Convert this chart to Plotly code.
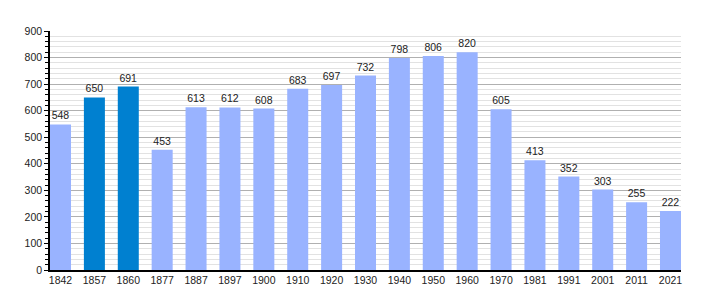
import plotly.graph_objects as go

years = ["1842", "1857", "1860", "1877", "1887", "1897", "1900", "1910", "1920", "1930",
         "1940", "1950", "1960", "1970", "1981", "1991", "2001", "2011", "2021"]
population = [548, 650, 691, 453, 613, 612, 608, 683, 697, 732,
              798, 806, 820, 605, 413, 352, 303, 255, 222]
highlight = ["1857", "1860"]

light = "#99b3ff"
dark = "#0080d0"
colors = [dark if y in highlight else light for y in years]

FS = 10.5

fig = go.Figure(go.Bar(
    x=years, y=population,
    marker=dict(color=colors, line=dict(width=0)),
    width=0.62,
    text=[str(v) for v in population],
    textposition="outside",
    textfont=dict(family="Liberation Sans, Arial, sans-serif", size=FS, color="#222"),
    cliponaxis=False,
))

fig.update_layout(
    width=710, height=300,
    margin=dict(l=50, r=29, t=31, b=30),
    plot_bgcolor="white", paper_bgcolor="white",
    font=dict(family="Liberation Sans, Arial, sans-serif", size=FS, color="#222"),
    showlegend=False,
    xaxis=dict(
        type="category",
        range=[-0.31, 18.31],
        showline=True, linecolor="black", linewidth=1.5,
        ticks="", showgrid=False,
        tickfont=dict(size=FS),
    ),
    yaxis=dict(
        range=[0, 900], dtick=100,
        showline=True, linecolor="black", linewidth=1.5,
        ticks="outside", ticklen=4, tickcolor="black",
        showgrid=True, gridcolor="#b0b0b0", gridwidth=1,
        zeroline=False,
        tickfont=dict(size=FS),
        minor=dict(dtick=20, showgrid=True, gridcolor="#e2e2e2", gridwidth=1,
                   ticks="outside", ticklen=3, tickcolor="black"),
    ),
)

fig.write_html("out.html")
